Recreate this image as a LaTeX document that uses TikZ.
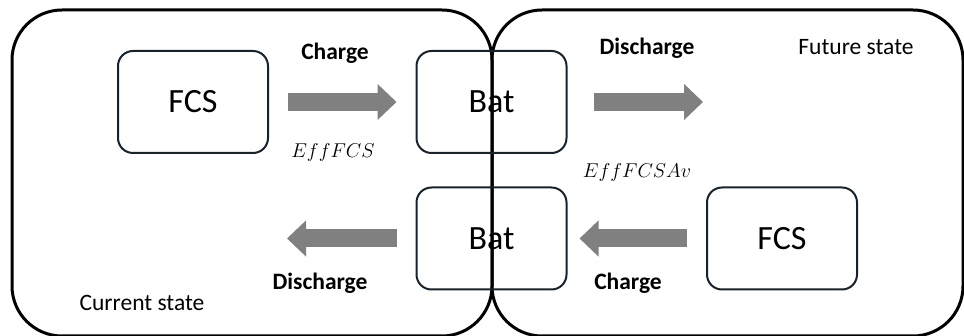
\documentclass[tikz,border=0pt]{standalone}
\usepackage{fix-cm}
\usepackage{fontspec}
\setmainfont{Carlito}
\usetikzlibrary{arrows.meta,positioning}
\definecolor{boxline}{RGB}{22,34,44}
\definecolor{flow}{RGB}{128,128,128}

\begin{document}
\begin{tikzpicture}[x=1pt,y=-1pt,
  blk/.style={draw=boxline,line width=2pt,rounded corners=15pt,minimum width=150pt,minimum height=102pt,font=\fontsize{34}{40}\selectfont},
  flowarrow/.style={line width=18pt,draw=flow,-{Triangle[length=19pt,width=35pt]}},
  lbl/.style={font=\fontsize{23.5}{28}\selectfont\bfseries},
  txt/.style={font=\fontsize{23.5}{28}\selectfont},
  eff/.style={font=\fontsize{20}{26}\selectfont}]
\useasboundingbox (0,0) rectangle (964,336);
\draw[line width=3pt,rounded corners=50pt] (12,10) rectangle (492,336);
\draw[line width=3pt,rounded corners=50pt] (492,10) rectangle (963,336);
\node (fcs1) [blk] at (193,102) {FCS};
\node (bat1) [blk] at (491.5,102) {Bat};
\node (bat2) [blk] at (491.5,238.5) {Bat};
\node (fcs2) [blk] at (782,238.5) {FCS};
\coordinate (dtip) at (703,102);
\coordinate (ltip) at (287,238.5);
\draw[flowarrow,shorten <=19pt,shorten >=19pt] (fcs1) -- (bat1);
\draw[flowarrow,shorten <=26pt] (bat1) -- (dtip);
\draw[flowarrow,shorten <=19pt] (bat2) -- (ltip);
\draw[flowarrow,shorten <=19pt,shorten >=12pt] (fcs2) -- (bat2);
\node (chg1) [lbl] at (335,53) {Charge};
\node (eff1) [eff] at (333,153) {$EffFCS$};
\node (dis1) [lbl] at (647,48) {Discharge};
\node (fut) [txt] at (856,47) {Future state};
\node (eff2) [eff] at (637,173) {$EffFCSAv$};
\node (dis2) [lbl] at (320,283) {Discharge};
\node (chg2) [lbl] at (628,283) {Charge};
\node (cur) [txt] at (142,303) {Current state};
\end{tikzpicture}
\end{document}
